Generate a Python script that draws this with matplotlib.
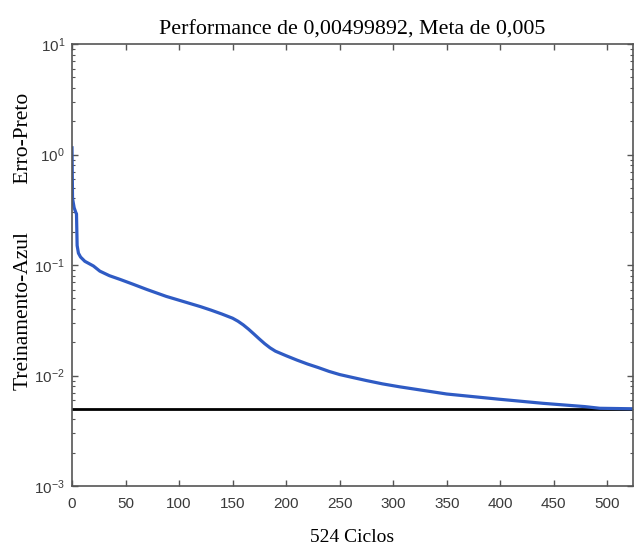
import numpy as np
import matplotlib
matplotlib.use("Agg")
import matplotlib.pyplot as plt
from matplotlib.ticker import LogLocator, NullFormatter, NullLocator

# training performance (blue)
ciclos = [0, 0.5, 2, 3.5, 4.2, 4.8, 6, 8, 12, 20, 26, 35, 45, 57, 70,
          88, 100, 120, 130, 140, 150, 155, 160, 165, 170, 175, 180, 185,
          190, 200, 210, 220, 230, 240, 250, 262, 275, 290, 306, 350, 399,
          440, 479, 493, 524]
erro_treino = [1.15, 0.40, 0.33, 0.30, 0.29, 0.15, 0.128, 0.118, 0.108,
               0.098, 0.088, 0.080, 0.074, 0.067, 0.060, 0.052, 0.048,
               0.042, 0.039, 0.036, 0.033, 0.0310, 0.0287, 0.0262, 0.0237,
               0.0214, 0.0194, 0.0178, 0.0166, 0.0151, 0.0138, 0.0127,
               0.0118, 0.0109, 0.0102, 0.0096, 0.0090, 0.0084, 0.0079,
               0.0068, 0.0061, 0.0056, 0.00523, 0.00505, 0.004999]
meta = 0.005
n_ciclos = 524
xticks = [0, 50, 100, 150, 200, 250, 300, 350, 400, 450, 500]

plt.rcParams['font.family'] = ['Liberation Sans', 'DejaVu Sans']
plt.rcParams['mathtext.fontset'] = 'custom'
plt.rcParams['mathtext.rm'] = 'Liberation Sans'
plt.rcParams['mathtext.it'] = 'Liberation Sans:italic'
plt.rcParams['mathtext.bf'] = 'Liberation Sans:bold'

W, H = 634, 547
fig = plt.figure(figsize=(W / 100, H / 100), dpi=100)
left, right, top, bottom = 72, 633, 44, 486
ax = fig.add_axes([left / W, 1 - bottom / H, (right - left) / W, (bottom - top) / H])

ax.plot([0, n_ciclos], [meta, meta], color="black", lw=2)
ax.plot(ciclos, erro_treino, color="#2f5bc4", lw=2.3)

ax.set_yscale("log")
ax.set_ylim(1e-3, 1e1)
ax.set_xlim(0, n_ciclos)
ax.set_xticks(xticks)
ax.xaxis.set_minor_locator(NullLocator())
ax.yaxis.set_major_locator(LogLocator(base=10, numticks=10))
ax.yaxis.set_minor_locator(LogLocator(base=10, subs=np.arange(2, 10), numticks=20))
ax.yaxis.set_minor_formatter(NullFormatter())

gray = "#555555"
for s in ax.spines.values():
    s.set_color(gray)
    s.set_linewidth(1.2)
ax.tick_params(which="both", direction="in", top=True, right=True,
               color=gray, labelcolor="#3a3a3a", labelsize=11)
ax.tick_params(which="major", length=4.5, width=1)
ax.tick_params(which="minor", length=2.5, width=0.8)
ax.tick_params(axis="x", pad=8)
ax.tick_params(axis="y", pad=5)

serif = ['Liberation Serif', 'DejaVu Serif']
cx = (left + right) / 2 / W
fig.text(cx, 1 - 30 / H, "Performance de 0,00499892, Meta de 0,005",
         ha="center", va="center", fontsize=15.8, family=serif)
fig.text(cx, 1 - 537 / H, "524 Ciclos", ha="center", va="center",
         fontsize=14, family=serif)
fig.text(24 / W, 1 - 241 / H, "Treinamento-Azul         Erro-Preto",
         ha="center", va="center", rotation=90, fontsize=15.5, family=serif)

fig.savefig("out.png", dpi=100)
